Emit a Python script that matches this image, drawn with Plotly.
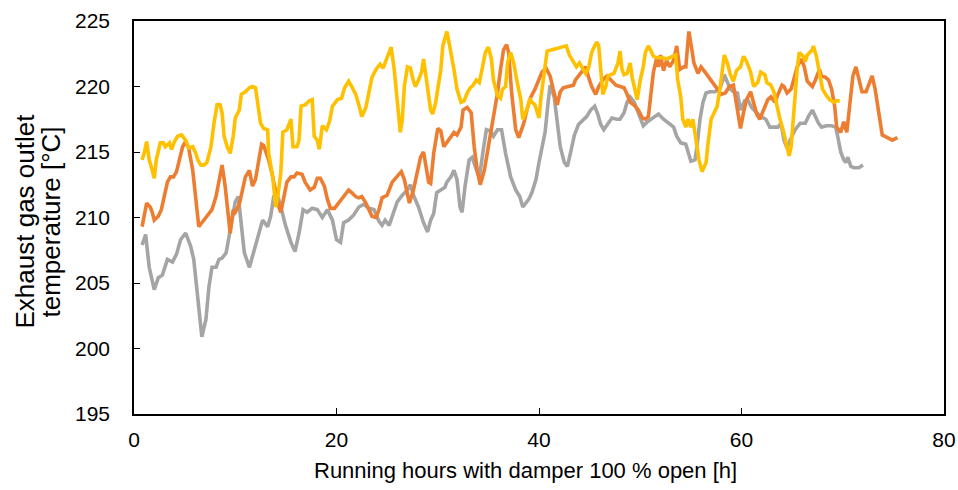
import plotly.graph_objects as go

# ---------------- data ----------------
gray_h = [0.8,1.15,1.5,1.8,2.0,2.4,2.8,3.3,3.8,4.2,4.6,5.1,5.6,5.9,6.3,6.7,7.1,7.4,7.7,8.1,8.4,8.7,9.1,9.4,9.7,10.0,10.3,10.5,10.9,11.4,11.7,12.2,12.7,13.2,13.5,13.8,14.1,14.5,15.0,15.5,15.9,16.3,16.7,17.1,17.6,18.1,18.6,19.1,19.6,20.0,20.4,20.7,21.2,21.7,22.2,22.7,23.2,23.7,24.2,24.5,24.8,25.2,25.6,26.0,26.5,27.0,27.3,27.6,28.1,28.6,29.0,29.3,29.6,29.9,30.3,30.7,30.9,31.3,31.6,31.9,32.2,32.4,32.7,33.1,33.4,33.7,34.1,34.5,34.8,35.2,35.5,35.9,36.3,36.7,37.2,37.7,38.1,38.4,39.0,39.3,39.7,40.0,40.3,40.6,40.9,41.1,41.5,41.8,42.1,42.5,42.8,43.1,43.5,43.9,44.4,44.7,45.1,45.5,45.8,46.1,46.4,46.8,47.2,47.7,48.0,48.4,48.7,49.0,49.4,49.7,50.0,50.3,50.7,51.2,51.8,52.3,52.8,53.3,53.6,54.0,54.5,54.8,55.0,55.4,55.6,55.9,56.2,56.5,56.9,57.4,57.9,58.3,58.6,58.9,59.2,59.6,59.9,60.3,60.6,61.0,61.5,61.9,62.4,62.8,63.2,63.6,63.9,64.2,64.5,64.8,65.3,65.8,66.3,66.6,67.0,67.3,67.6,67.9,68.4,68.9,69.3,69.5,69.8,70.1,70.3,70.5,70.8,71.1,71.6,72.0]
gray_t = [207.9,208.7,206.2,205.2,204.5,205.4,205.6,206.8,206.6,207.2,208.3,208.8,207.8,206.8,203.9,200.9,202.2,204.7,206.2,206.2,206.8,206.9,207.3,208.5,209.8,211.2,211.6,210.1,207.3,206.2,207.0,208.5,209.8,209.3,210.1,211.6,211.9,210.8,209.3,208.1,207.4,208.8,210.6,210.4,210.7,210.6,210.0,210.6,209.8,208.3,208.1,209.6,209.8,210.2,210.8,211.0,210.7,210.6,209.7,209.4,209.8,209.4,210.3,211.2,211.7,212.1,212.5,211.7,210.8,209.6,208.9,209.8,210.3,211.9,212.1,212.3,212.7,213.1,213.6,212.9,210.8,210.4,212.4,214.4,214.6,213.9,213.0,215.2,216.7,216.6,216.2,216.7,216.7,214.9,213.1,212.1,211.6,210.8,211.4,211.9,212.9,214.2,215.2,216.5,218.8,220.1,219.2,217.5,215.4,214.2,213.9,214.9,216.3,217.1,217.5,217.7,218.2,218.5,217.9,217.1,216.7,217.1,217.6,217.5,217.5,218.0,218.8,219.2,218.8,218.2,217.5,217.0,217.3,217.6,217.9,217.5,217.2,216.9,216.2,215.7,215.6,214.9,214.3,214.4,215.4,217.5,218.8,219.5,219.6,219.6,219.9,220.9,220.3,219.8,219.6,219.5,218.2,218.9,219.0,218.4,218.0,217.7,217.5,216.9,216.9,216.9,217.2,215.9,215.3,215.9,216.7,217.2,217.2,217.7,218.2,217.7,217.2,216.9,217.0,217.0,216.9,216.2,215.0,214.4,214.2,214.6,213.9,213.8,213.8,214.0]

orange_h = [0.8,1.25,1.6,1.8,2.0,2.4,2.7,3.0,3.3,3.6,3.9,4.2,4.5,4.8,5.1,5.4,5.8,6.1,6.4,6.7,7.1,7.4,7.7,8.1,8.4,8.7,9.0,9.2,9.5,9.8,10.0,10.4,10.7,11.0,11.4,11.7,12.0,12.3,12.6,12.8,13.3,13.7,14.0,14.3,14.5,14.8,15.1,15.5,15.8,16.1,16.6,16.9,17.4,17.8,18.1,18.4,18.8,19.1,19.4,19.8,20.2,20.7,21.2,21.5,21.9,22.2,22.5,22.9,23.2,23.5,23.9,24.2,24.5,25.0,25.5,26.0,26.4,26.7,27.0,27.2,27.6,28.0,28.3,28.6,28.8,29.1,29.3,29.6,30.0,30.3,30.6,30.9,31.3,31.6,31.9,32.3,32.5,32.9,33.3,33.6,33.9,34.2,34.6,34.9,35.2,35.5,35.9,36.2,36.5,36.8,37.0,37.3,37.7,38.0,38.3,38.5,38.8,39.2,39.6,39.9,40.3,40.7,41.1,41.4,41.8,42.1,42.4,42.9,43.4,43.6,43.9,44.3,44.6,44.9,45.2,45.6,45.9,46.3,46.7,47.1,47.6,48.0,48.4,48.7,49.0,49.5,49.8,50.2,50.5,50.8,51.1,51.3,51.6,51.8,52.0,52.3,52.6,52.9,53.3,53.6,53.9,54.3,54.5,54.8,55.1,55.3,55.7,56.0,56.4,56.8,57.2,57.6,58.0,58.4,58.8,59.2,59.5,59.9,60.2,60.5,60.9,61.2,61.5,61.8,62.2,62.6,62.9,63.3,63.6,64.0,64.2,64.5,64.9,65.2,65.5,65.9,66.2,66.5,67.0,67.3,67.7,67.9,68.3,68.6,68.9,69.2,69.4,69.8,70.1,70.4,70.7,71.0,71.3,71.6,71.9,72.3,72.6,72.9,73.2,73.6,73.9,74.4,74.9,75.4]
orange_t = [209.3,211.1,210.8,210.4,209.8,210.1,210.6,211.6,212.7,213.1,213.1,213.5,214.4,215.4,215.8,215.3,213.6,211.6,209.3,209.6,210.0,210.4,210.6,211.6,212.9,214.0,212.4,210.8,208.8,210.6,210.4,211.0,212.1,213.1,213.6,212.4,212.9,214.4,215.6,215.5,214.4,213.1,211.9,210.8,210.4,211.4,212.7,213.1,213.1,213.4,213.3,212.7,212.1,212.3,213.0,213.0,212.4,211.4,210.7,210.7,211.1,211.6,212.1,211.9,211.6,211.5,211.6,211.1,210.6,210.1,210.0,210.6,211.5,211.7,212.7,213.1,213.5,212.9,211.6,211.1,212.1,213.6,214.6,215.0,213.9,212.7,212.6,214.9,216.8,216.6,215.4,215.7,216.2,216.5,216.3,216.9,218.2,218.4,218.0,215.4,213.6,212.5,213.6,214.9,216.5,217.7,219.5,221.3,222.8,223.2,222.6,219.5,216.7,216.1,216.7,217.2,218.2,219.2,219.8,220.4,221.1,221.4,220.8,219.8,218.6,219.6,219.9,220.0,220.1,220.5,220.8,221.2,221.5,220.7,220.0,219.4,220.0,220.5,220.8,220.5,220.1,220.0,219.9,219.4,218.8,218.5,218.2,217.6,217.5,217.7,220.0,221.1,222.1,221.5,222.4,221.2,222.0,221.5,222.0,223.1,221.3,221.5,221.5,224.2,222.8,221.8,221.0,221.5,221.1,220.7,220.3,219.9,219.4,219.5,220.0,220.1,218.8,216.8,218.0,219.0,219.6,218.8,217.9,217.5,218.2,219.0,219.2,218.8,219.4,220.1,220.0,219.5,219.8,220.8,221.5,222.1,221.5,220.4,220.0,220.5,221.3,220.8,220.7,220.5,219.8,218.5,216.9,216.5,217.3,216.5,218.5,220.8,221.5,220.5,219.6,219.6,220.3,220.8,219.8,218.0,216.3,216.1,215.9,216.1]

yellow_h = [0.8,1.0,1.25,1.5,1.7,2.0,2.2,2.6,2.9,3.1,3.5,3.7,4.0,4.3,4.7,5.1,5.4,5.8,6.1,6.3,6.6,6.9,7.2,7.6,7.9,8.2,8.5,8.7,8.9,9.2,9.5,9.8,10.0,10.4,10.6,11.0,11.4,11.7,12.0,12.2,12.5,12.8,13.2,13.3,13.7,14.0,14.2,14.5,14.7,15.1,15.5,15.7,16.1,16.3,16.5,16.9,17.3,17.6,17.8,18.1,18.3,18.6,19.0,19.3,19.6,20.1,20.5,20.8,21.2,21.5,21.9,22.2,22.5,22.9,23.2,23.5,23.9,24.3,24.6,25.0,25.4,25.7,26.0,26.3,26.5,26.7,27.0,27.3,27.6,27.8,28.1,28.4,28.6,28.9,29.1,29.3,29.5,29.8,30.0,30.3,30.5,30.9,31.1,31.3,31.6,31.9,32.3,32.6,32.9,33.2,33.5,33.8,34.1,34.4,34.7,35.0,35.3,35.5,35.9,36.2,36.4,36.7,36.9,37.2,37.5,37.8,38.2,38.4,38.8,39.1,39.3,39.6,40.0,40.2,40.5,40.8,41.3,41.8,42.3,42.7,43.0,43.4,43.7,44.0,44.3,44.6,44.9,45.2,45.5,45.7,45.9,46.1,46.3,46.6,46.8,47.1,47.4,47.8,48.0,48.2,48.4,48.7,49.0,49.2,49.5,49.7,50.0,50.3,50.5,50.8,51.0,51.3,51.7,52.2,52.6,53.1,53.5,53.7,54.0,54.2,54.5,54.7,55.0,55.2,55.5,55.8,56.1,56.5,56.7,57.0,57.3,57.6,57.9,58.1,58.3,58.6,58.9,59.2,59.5,59.9,60.2,60.5,60.9,61.2,61.6,61.9,62.3,62.5,62.9,63.2,63.5,63.8,64.1,64.4,64.7,64.9,65.2,65.5,65.7,66.1,66.3,66.5,67.0,67.1,67.4,67.7,68.0,68.4,68.7,69.1,69.4,69.7]
yellow_t = [214.4,214.9,215.8,214.4,213.9,213.0,214.4,215.7,215.7,215.4,215.7,215.2,215.8,216.2,216.3,215.9,215.3,215.4,214.9,214.4,214.0,214.0,214.2,215.4,217.2,218.6,218.6,218.0,216.2,215.4,214.9,216.2,217.6,218.2,219.4,219.6,219.9,220.0,219.9,218.8,217.2,216.8,216.7,214.9,213.1,210.8,211.6,213.4,216.5,216.7,217.5,215.4,215.4,215.9,218.5,218.6,218.9,219.0,216.2,215.9,215.2,217.0,216.7,217.3,218.5,219.0,219.1,219.9,220.4,220.0,219.4,218.6,217.7,218.4,219.5,220.7,221.3,221.7,221.4,222.3,223.0,221.3,218.8,216.5,217.5,220.0,221.5,221.4,220.4,220.0,220.5,221.1,222.1,220.5,219.5,218.2,217.9,218.8,219.8,221.3,223.1,224.2,223.4,222.6,221.3,219.8,218.8,218.9,219.5,219.9,220.1,220.5,220.3,221.4,222.6,223.0,222.1,220.5,219.3,219.1,219.8,220.0,221.8,222.6,221.8,220.5,219.0,217.5,218.2,219.1,218.8,218.6,217.6,219.2,220.8,222.7,222.8,222.9,223.0,223.1,222.4,221.8,221.5,221.8,221.4,221.0,221.4,222.6,223.1,223.4,223.1,221.5,219.4,220.0,220.8,220.9,221.0,221.8,222.7,221.3,220.9,221.0,221.8,220.7,219.8,219.0,220.5,221.5,222.6,223.1,222.8,222.3,222.2,222.2,222.1,222.3,222.4,220.5,219.2,217.5,216.9,217.5,216.9,217.5,215.9,214.4,213.5,214.2,215.7,217.5,218.0,218.5,220.0,221.3,222.4,221.8,220.9,220.4,221.2,221.5,222.3,221.9,221.1,220.0,220.3,221.1,220.9,220.3,220.1,219.6,218.5,217.5,216.7,215.7,214.7,215.4,218.8,221.3,222.6,222.3,221.9,222.4,222.8,223.1,222.3,221.1,219.8,219.3,219.0,218.8,218.9,218.9]

x_ticks = [0, 20, 40, 60, 80]
y_ticks = [195, 200, 205, 210, 215, 220, 225]
x_title = "Running hours with damper 100 % open [h]"
y_title_lines = ["Exhaust gas outlet", "temperature [°C]"]

FONT = "Liberation Sans, Arial, sans-serif"

fig = go.Figure()
for h, t, c in [(gray_h, gray_t, "#A5A5A5"),
                (orange_h, orange_t, "#ED7D31"),
                (yellow_h, yellow_t, "#FFC000")]:
    fig.add_trace(go.Scatter(x=h, y=t, mode="lines",
                             line=dict(color=c, width=3.6),
                             showlegend=False, hoverinfo="skip"))

axis_common = dict(showline=True, linecolor="black", linewidth=1.5, mirror=True,
                   ticks="inside", ticklen=6, tickwidth=1.3, tickcolor="black",
                   showgrid=False, zeroline=False, automargin=False,
                   ticklabeloverflow="allow",
                   tickfont=dict(family=FONT, size=21, color="black"))

fig.update_xaxes(range=[0, 80], tickvals=x_ticks, ticklabelstandoff=6, **axis_common)
fig.update_yaxes(range=[195, 225], tickvals=y_ticks, ticklabelstandoff=18, **axis_common)

fig.add_annotation(text=x_title, xref="paper", yref="paper", x=0.5, y=0,
                   xanchor="center", yanchor="middle", xshift=-14, yshift=-56,
                   showarrow=False, font=dict(family=FONT, size=22, color="black"))
fig.add_annotation(text=y_title_lines[0], xref="paper", yref="paper", x=0, y=0.5,
                   xanchor="center", yanchor="middle", xshift=-110, yshift=-4,
                   textangle=-90, showarrow=False,
                   font=dict(family=FONT, size=26, color="black"))
fig.add_annotation(text=y_title_lines[1], xref="paper", yref="paper", x=0, y=0.5,
                   xanchor="center", yanchor="middle", xshift=-84, yshift=-5,
                   textangle=-90, showarrow=False,
                   font=dict(family=FONT, size=26, color="black"))

fig.update_layout(width=958, height=490,
                  margin=dict(l=134, r=14, t=21, b=76, pad=0, autoexpand=False),
                  paper_bgcolor="white", plot_bgcolor="white")

# remove the default page margin so the 958x490 figure fills the window exactly
fig.write_html("out.html",
               config={"displayModeBar": False},
               post_script="document.body.style.margin='0';document.body.style.overflow='hidden';")
